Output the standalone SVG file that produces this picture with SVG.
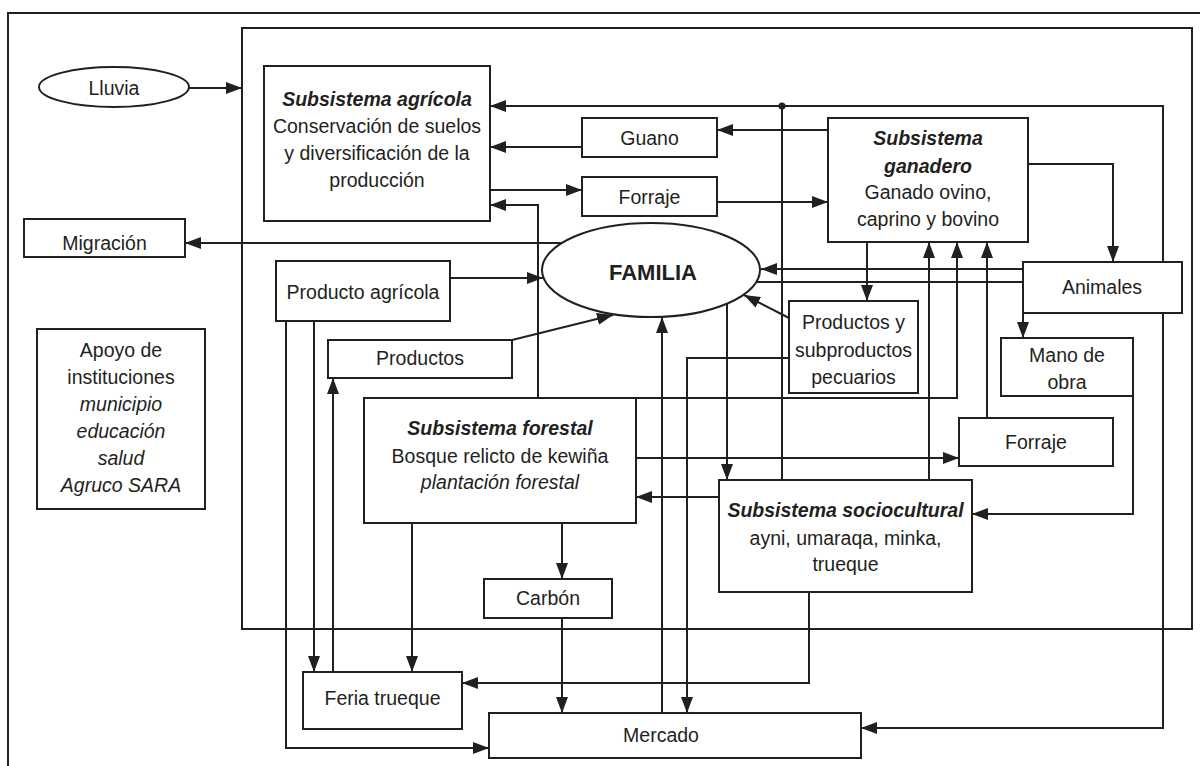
<svg xmlns="http://www.w3.org/2000/svg" width="1200" height="766" viewBox="0 0 1200 766">
<defs>
<marker id="ah" markerUnits="userSpaceOnUse" markerWidth="16" markerHeight="12" refX="16" refY="6" orient="auto">
<path d="M0,0 L16,6 L0,12 z" fill="#231f20"/>
</marker>
<style>
.box{fill:#fff;stroke:#231f20;stroke-width:2}
.frame{fill:none;stroke:#231f20;stroke-width:2}
.c{fill:none;stroke:#231f20;stroke-width:2}
.a{marker-end:url(#ah)}
text{font-family:"Liberation Sans",Arial,sans-serif;font-size:19.5px;fill:#231f20;text-anchor:middle}
.bi{font-weight:bold;font-style:italic}
.i{font-style:italic}
.b{font-weight:bold;font-size:22px}
</style>
</defs>
<rect width="1200" height="766" fill="#fff"/>
<g id="frames">
<path class="frame" d="M8,770 V13 H1201"/>
<rect class="frame" x="242" y="28" width="950" height="601"/>
</g>
<g id="connectors">
<path class="c a" d="M189,88 H242"/>
<path class="c a" d="M782,106 H490"/>
<path class="c a" d="M782,106 H1163 V728 H861"/>
<path class="c" d="M782,480 V106"/>
<circle cx="782" cy="106" r="3.5" fill="#231f20"/>
<path class="c a" d="M828,130 H717"/>
<path class="c a" d="M582,147 H490"/>
<path class="c a" d="M490,190 H582"/>
<path class="c a" d="M717,202 H828"/>
<path class="c a" d="M538,398 V205 H490"/>
<path class="c a" d="M1028,164 H1113 V262"/>
<path class="c a" d="M562,243 H185"/>
<path class="c a" d="M450,278 H543"/>
<path class="c a" d="M512,340 L613,315"/>
<path class="c a" d="M1023,269 H761"/>
<path class="c a" d="M756,282 H1023 V338"/>
<path class="c a" d="M867,242 V301"/>
<path class="c a" d="M789,318 L744,295"/>
<path class="c a" d="M789,358 H687 V713"/>
<path class="c a" d="M662,713 V317"/>
<path class="c a" d="M727,304 V480"/>
<path class="c a" d="M929,480 V242"/>
<path class="c a" d="M636,398 H957 V242"/>
<path class="c a" d="M987,418 V242"/>
<path class="c a" d="M636,458 H959"/>
<path class="c a" d="M719,497 H636"/>
<path class="c a" d="M1133,396 V514 H972"/>
<path class="c a" d="M562,523 V579"/>
<path class="c a" d="M562,618 V713"/>
<path class="c a" d="M412,523 V672"/>
<path class="c a" d="M314,321 V672"/>
<path class="c a" d="M286,321 V748 H489"/>
<path class="c a" d="M333,672 V378"/>
<path class="c a" d="M809,592 V683 H462"/>
</g>
<g id="lluvia"><ellipse class="box" cx="114" cy="87" rx="75" ry="20"/><text x="114" y="95">Lluvia</text></g>
<g id="agricola"><rect class="box" x="264" y="66" width="226" height="155"/>
<text x="377" y="106" class="bi">Subsistema agrícola</text>
<text x="377" y="133">Conservación de suelos</text>
<text x="377" y="160">y diversificación de la</text>
<text x="377" y="187">producción</text></g>
<g id="guano"><rect class="box" x="582" y="118" width="135" height="39"/><text x="649.5" y="145">Guano</text></g>
<g id="forraje1"><rect class="box" x="582" y="177" width="135" height="39"/><text x="649.5" y="204">Forraje</text></g>
<g id="ganadero"><rect class="box" x="828" y="118" width="200" height="124"/>
<text x="928" y="145" class="bi">Subsistema</text>
<text x="928" y="173" class="bi">ganadero</text>
<text x="928" y="199">Ganado ovino,</text>
<text x="928" y="226">caprino y bovino</text></g>
<g id="migracion"><rect class="box" x="24" y="219" width="161" height="38"/><text x="104.5" y="250">Migración</text></g>
<g id="familia"><ellipse class="box" cx="651" cy="270" rx="109" ry="47"/><text x="653" y="280" class="b">FAMILIA</text></g>
<g id="producto-agricola"><rect class="box" x="276" y="261" width="174" height="60"/><text x="363" y="299">Producto agrícola</text></g>
<g id="productos"><rect class="box" x="328" y="340" width="184" height="38"/><text x="420" y="365">Productos</text></g>
<g id="animales"><rect class="box" x="1023" y="262" width="159" height="51"/><text x="1102" y="294">Animales</text></g>
<g id="pecuarios"><rect class="box" x="789" y="301" width="129" height="92"/>
<text x="853.5" y="329">Productos y</text>
<text x="853.5" y="357">subproductos</text>
<text x="853.5" y="384">pecuarios</text></g>
<g id="mano-obra"><rect class="box" x="1001" y="338" width="132" height="58"/>
<text x="1067" y="362">Mano de</text>
<text x="1067" y="389">obra</text></g>
<g id="apoyo"><rect class="box" x="37" y="329" width="168" height="180"/>
<text x="121" y="357">Apoyo de</text>
<text x="121" y="384">instituciones</text>
<text x="121" y="411" class="i">municipio</text>
<text x="121" y="438" class="i">educación</text>
<text x="121" y="465" class="i">salud</text>
<text x="121" y="492" class="i">Agruco SARA</text></g>
<g id="forestal"><rect class="box" x="364" y="398" width="272" height="125"/>
<text x="500" y="435" class="bi">Subsistema forestal</text>
<text x="500" y="463">Bosque relicto de kewiña</text>
<text x="500" y="489" class="i">plantación forestal</text></g>
<g id="forraje2"><rect class="box" x="959" y="418" width="154" height="48"/><text x="1036" y="449">Forraje</text></g>
<g id="sociocultural"><rect class="box" x="719" y="480" width="253" height="112"/>
<text x="845.5" y="517" class="bi">Subsistema sociocultural</text>
<text x="845.5" y="545">ayni, umaraqa, minka,</text>
<text x="845.5" y="571">trueque</text></g>
<g id="carbon"><rect class="box" x="484" y="579" width="128" height="39"/><text x="548" y="605">Carbón</text></g>
<g id="feria"><rect class="box" x="303" y="672" width="159" height="57"/><text x="382.5" y="705">Feria trueque</text></g>
<g id="mercado"><rect class="box" x="489" y="713" width="372" height="45"/><text x="661" y="742">Mercado</text></g>
</svg>
